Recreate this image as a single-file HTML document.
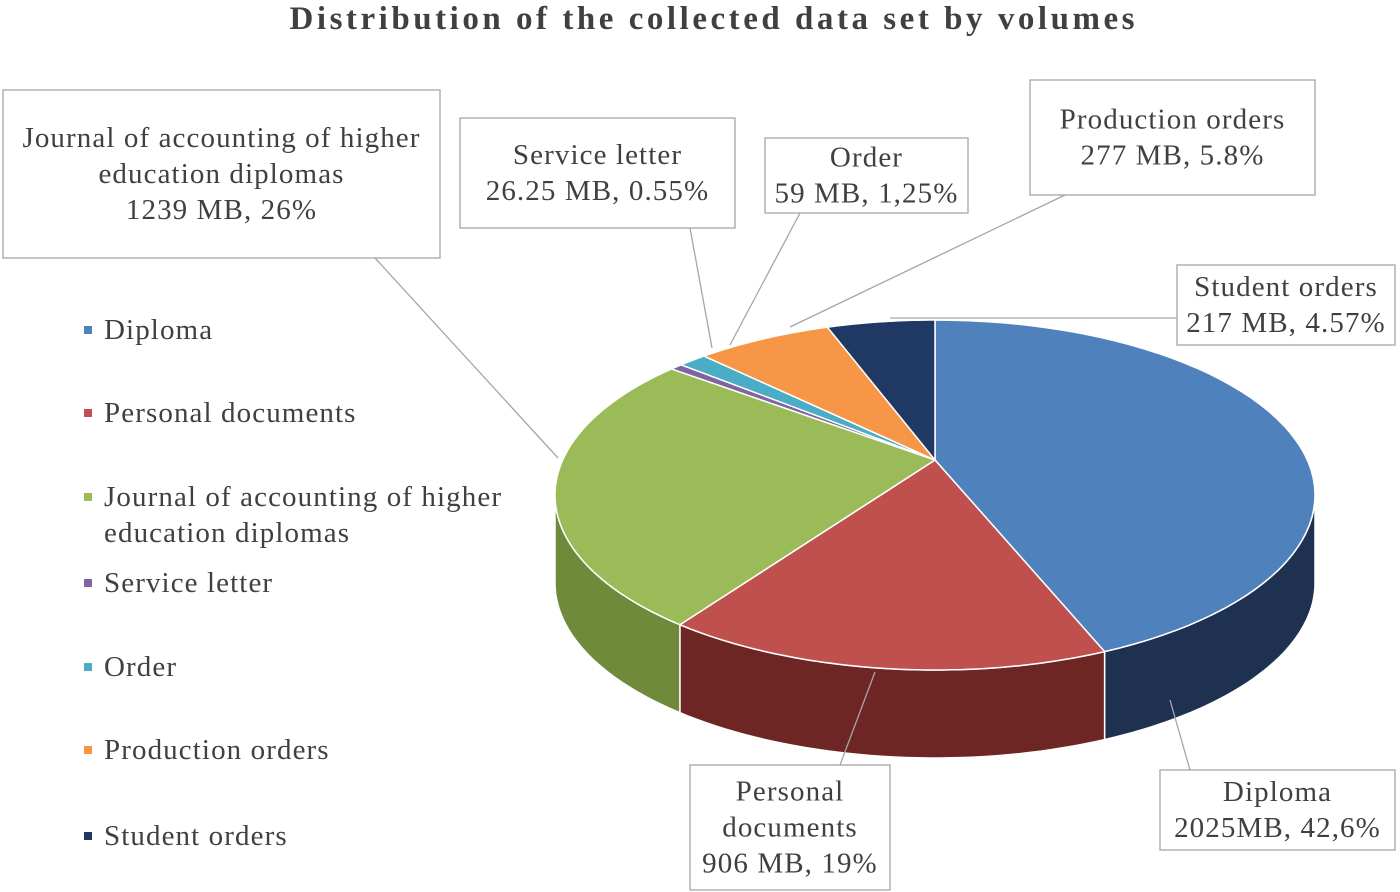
<!DOCTYPE html>
<html><head><meta charset="utf-8"><style>
body{margin:0;background:#fff;}
svg{display:block;font-family:"Liberation Serif",serif;}
</style></head><body>
<svg id="chart" width="1400" height="892" viewBox="0 0 1400 892" xmlns="http://www.w3.org/2000/svg">
<rect width="1400" height="892" fill="#fff"/>
<text x="712" y="29" text-anchor="middle" font-size="33" font-weight="bold" fill="#404040" textLength="845" lengthAdjust="spacing">Distribution of the collected data set by volumes</text>
<g id="sides"></g><g id="tops"></g><g id="callouts"></g><g id="legend"></g>
</svg>
<script>
const categories=["Diploma","Personal documents","Journal of accounting of higher education diplomas","Service letter","Order","Production orders","Student orders"];
const values=[2025,906,1239,26.25,59,277,217];
const labels=[["Diploma","2025MB, 42,6%"],["Personal","documents","906 MB, 19%"],["Journal of accounting of higher","education diplomas","1239 MB, 26%"],["Service letter","26.25 MB, 0.55%"],["Order","59 MB, 1,25%"],["Production orders","277 MB, 5.8%"],["Student orders","217 MB, 4.57%"]];
const colors=["#4F81BD","#C0504D","#9BBB59","#8064A2","#4BACC6","#F79646","#1F3864"];
const sideColors=["#1E3150","#6E2624","#6E8A3A","#4E3A66","#2A7A90","#B56520","#15284A"];
const NS="http://www.w3.org/2000/svg";
const cx=935,cy=495,rx=380,ry=175,ax=935,ay=460,depth=88;
function pt(t,d){return [cx+rx*Math.sin(t),cy-ry*Math.cos(t)+(d||0)];}
function mk(tag,attrs,parent){const e=document.createElementNS(NS,tag);for(const k in attrs)e.setAttribute(k,attrs[k]);parent.appendChild(e);return e;}
const total=values.reduce((a,b)=>a+b,0);
let acc=0;const angles=[];
values.forEach(v=>{const a0=acc/total*2*Math.PI;acc+=v;angles.push([a0,acc/total*2*Math.PI]);});
const sides=document.getElementById('sides'),tops=document.getElementById('tops');
function arcPath(a0,a1,d,n){let s="";for(let i=0;i<=n;i++){const t=a0+(a1-a0)*i/n;const p=pt(t,d);s+=(i?"L":"")+p[0].toFixed(1)+","+p[1].toFixed(1);}return s;}
angles.forEach((a,i)=>{
  const s0=Math.max(a[0],Math.PI/2),s1=Math.min(a[1],1.5*Math.PI);
  if(s1>s0){
    let d="M"+arcPath(s0,s1,0,40)+"L"+arcPath(s1,s0,depth,40)+"Z";
    const el=mk('path',{d:d,fill:sideColors[i],stroke:"#fff","stroke-width":1.5},sides);
    
    
  }
  const d="M"+ax+","+ay+"L"+arcPath(a[0],a[1],0,60)+"Z";
  const el=mk('path',{d:d,fill:colors[i],stroke:"#fff","stroke-width":1.5},tops);
  
  
});
const boxes=[[1160,770,235,80,1190,770,1170,700],[690,765,200,125,840,765,875,672],[3,90,437,168,375,258,558,458],[460,118,275,110,690,228,712,348],[765,138,203,75,800,213,730,345],[1030,80,285,115,1065,195,790,327],[1177,265,218,80,1177,318,890,318]];
const co=document.getElementById('callouts');
boxes.forEach((b,i)=>{
  const g=mk('g',{},co);
  
  
  mk('line',{x1:b[4],y1:b[5],x2:b[6],y2:b[7],stroke:"#A6A6A6","stroke-width":1.3},g);
  mk('rect',{x:b[0],y:b[1],width:b[2],height:b[3],fill:"#fff",stroke:"#A6A6A6","stroke-width":1.3},g);
  const L=labels[i],lh=36,h0=b[1]+b[3]/2-(L.length-1)*lh/2+9;
  L.forEach((t,j)=>{const tx=mk('text',{x:b[0]+b[2]/2,y:h0+j*lh,"text-anchor":"middle","font-size":29,"letter-spacing":1.1,fill:"#404040"},g);tx.textContent=t;});
});
const lg=document.getElementById('legend');
const legendLines=[["Diploma"],["Personal documents"],["Journal of accounting of higher","education diplomas"],["Service letter"],["Order"],["Production orders"],["Student orders"]];
const ly=[330,413,497,583,667,750,836];
legendLines.forEach((L,i)=>{
  const g=mk('g',{},lg);
  
  
  mk('rect',{x:84,y:ly[i]-4,width:8,height:8,fill:colors[i]},g);
  L.forEach((t,j)=>{const tx=mk('text',{x:104,y:ly[i]+9+j*36,"font-size":29,"letter-spacing":1.1,fill:"#404040"},g);tx.textContent=t;});
});
</script>
</body></html>
